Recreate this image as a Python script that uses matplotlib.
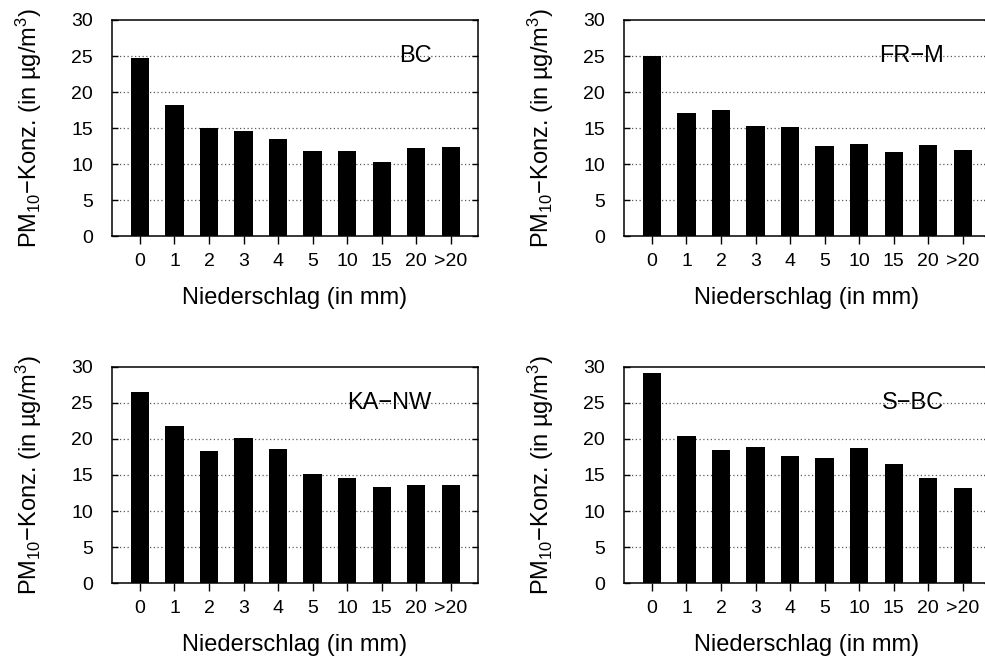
import matplotlib
matplotlib.use("Agg")
import matplotlib.pyplot as plt
import numpy as np

plt.rcParams["font.family"] = ["Liberation Sans", "DejaVu Sans"]
plt.rcParams["mathtext.fontset"] = "custom"
plt.rcParams["mathtext.rm"] = "Liberation Sans"
plt.rcParams["mathtext.default"] = "rm"

# precipitation classes (mm) and mean PM10 per station
classes = ["0", "1", "2", "3", "4", "5", "10", "15", "20", ">20"]
stations = ["BC", "FR\u2212M", "KA\u2212NW", "S\u2212BC"]
pm_bc = [24.8, 18.2, 15.1, 14.6, 13.5, 11.85, 11.9, 10.3, 12.25, 12.45]
pm_frm = [25.0, 17.1, 17.5, 15.3, 15.15, 12.5, 12.8, 11.65, 12.7, 11.95]
pm_kanw = [26.45, 21.8, 18.3, 20.1, 18.65, 15.15, 14.6, 13.35, 13.6, 13.65]
pm_sbc = [29.1, 20.4, 18.5, 18.85, 17.6, 17.3, 18.75, 16.5, 14.6, 13.2]
series = [pm_bc, pm_frm, pm_kanw, pm_sbc]
yticks = [0, 5, 10, 15, 20, 25, 30]

ylab = "PM$_{10}$\u2212Konz. (in \u00b5g/m$^3$)"

W, H = 985, 659
fig = plt.figure(figsize=(W / 100, H / 100), dpi=100)

# panel boxes in pixels: left, top
boxes = [(112, 20), (624, 20), (112, 366.7), (624, 366.7)]
aw, ah = 366, 216.5

x = np.arange(len(classes))
for (left, top), name, vals in zip(boxes, stations, series):
    ax = fig.add_axes([left / W, 1 - (top + ah) / H, aw / W, ah / H])
    ax.set_axisbelow(True)
    ax.bar(x, vals, width=0.53, color="black", edgecolor="none")
    ax.set_xlim(-0.81, 9.79)
    ax.set_ylim(0, 30)
    ax.set_yticks(yticks)
    ax.set_xticks(x)
    ax.set_xticklabels(classes)
    for g in yticks[1:-1]:
        ax.axhline(g, color="#5a5a5a", lw=0.9, ls=(0, (1, 2)), zorder=0.5)
    ax.tick_params(axis="y", direction="in", length=4, width=1, right=True,
                   labelsize=14, pad=13.5)
    ax.tick_params(axis="x", direction="out", length=6, width=1,
                   labelsize=14, pad=6)
    for s in ax.spines.values():
        s.set_linewidth(1.1)
    ax.text(8.45, 25, name, ha="right", va="center", fontsize=17)
    ax.set_xlabel("Niederschlag (in mm)", fontsize=17, labelpad=12)
    ax.set_ylabel(ylab, fontsize=17, labelpad=20)

fig.savefig("out.png", dpi=100)
